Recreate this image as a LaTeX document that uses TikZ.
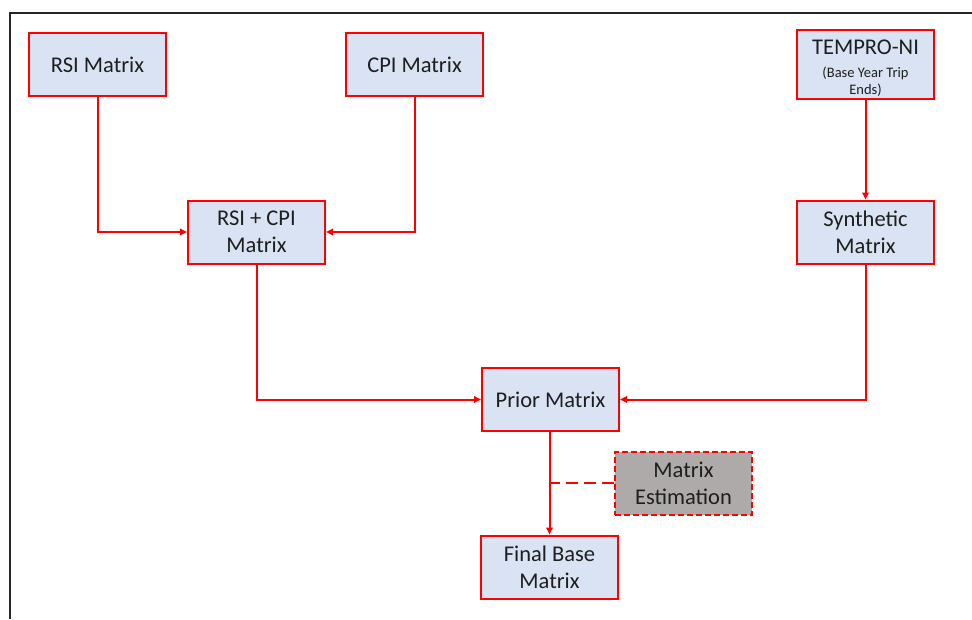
\documentclass[tikz,border=0pt]{standalone}
\usepackage{fontspec}
\setmainfont{Carlito}
\usetikzlibrary{arrows.meta}
\definecolor{boxfill}{HTML}{DAE3F3}
\definecolor{boxline}{HTML}{FF0000}
\definecolor{estfill}{HTML}{AEAAAA}
\definecolor{ink}{HTML}{1E1E1E}
\tikzset{
  stage/.style={draw=boxline, line width=2pt, fill=boxfill, minimum width=137pt,
    minimum height=63pt, inner sep=2pt, align=center,
    font=\fontsize{22.5}{27}\selectfont, text=ink},
  estbox/.style={stage, fill=estfill, dash pattern=on 6pt off 3pt},
  flow/.style={draw=boxline, line width=2pt,
    -{Triangle[length=7pt,width=6.5pt]}},
  link/.style={draw=boxline, line width=2pt, dash pattern=on 12pt off 6pt},
}
\newcommand{\smallnote}{\fontsize{14.5}{16}\selectfont}
\begin{document}
\begin{tikzpicture}[x=1pt,y=-1pt]
\useasboundingbox (0,0) rectangle (972,619);
% page frame
\draw[line width=2pt, black!85] (9.5,619) -- (9.5,13) -- (972,13);

\node[stage] (rsi)   at (97.5,64.5)  {RSI Matrix};
\node[stage] (cpi)   at (414.5,64.5) {CPI Matrix};
\node[stage] (tempro) at (865.5,64.5)
  {\rule{0pt}{23pt}TEMPRO-NI\\[-4pt]{\smallnote (Base Year Trip}\\[-10pt]{\smallnote Ends)}};
\node[stage] (comb)  at (256.5,232) {RSI + CPI\\Matrix};
\node[stage] (synth) at (865.5,232) {Synthetic\\Matrix};
\node[stage] (prior) at (550.5,399.5) {Prior Matrix};
\node[estbox] (est)  at (683.5,483)  {Matrix\\Estimation};
\node[stage] (final) at (549.5,567)  {Final Base\\Matrix};

\draw[flow] (rsi.south) |- (comb.west);
\draw[flow] (cpi.south) |- (comb.east);
\draw[flow] (tempro.south) -- (synth.north);
\draw[flow] (comb.south) |- (prior.west);
\draw[flow] (synth.south) |- (prior.east);
\draw[flow] (prior.south -| final.north) -- (final.north);
\coordinate (tap) at (final.north |- est.west);
\draw[link] (est.west) -- (tap);
\end{tikzpicture}
\end{document}
